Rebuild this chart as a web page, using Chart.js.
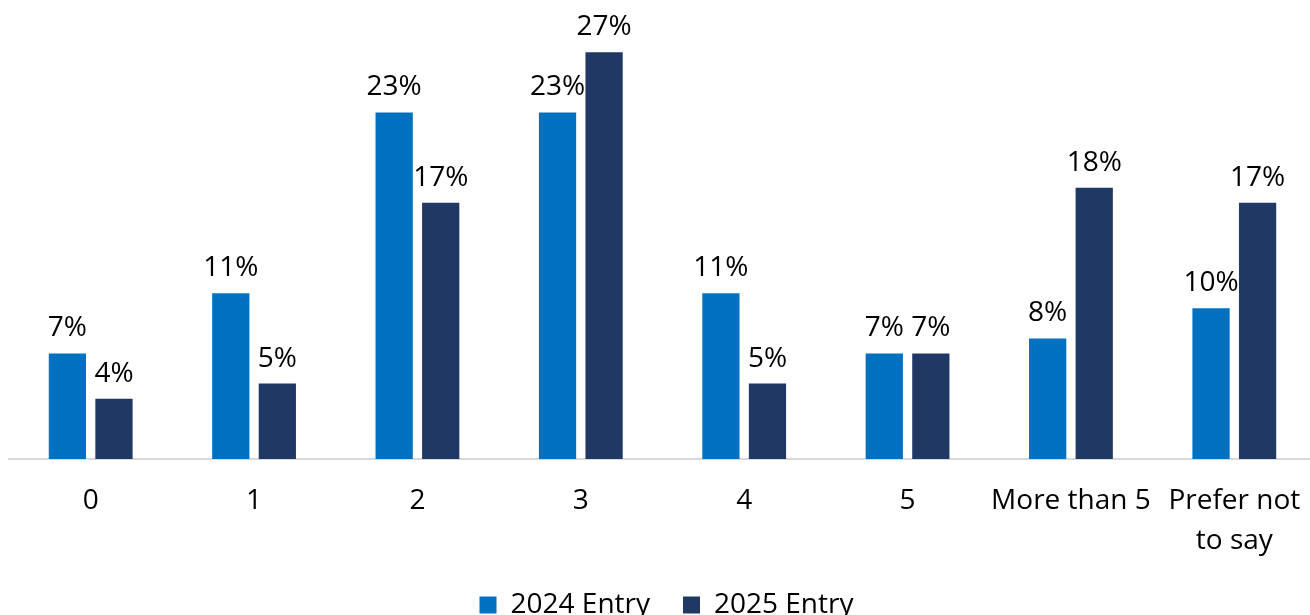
<!DOCTYPE html>
<html>
<head>
<meta charset="utf-8">
<script src="https://cdn.jsdelivr.net/npm/chart.js@4.4.1/dist/chart.umd.min.js"></script>
<style>
  html, body { margin: 0; padding: 0; background: #fff; overflow: hidden; }
  #wrap { width: 1316px; height: 629px; position: relative; }
</style>
</head>
<body>
<div id="wrap"><canvas id="chart"></canvas></div>
<script>
// data
const categories = ['0', '1', '2', '3', '4', '5', 'More than 5', ['Prefer not', 'to say']];
const entry2024 = [7, 11, 23, 23, 11, 7, 8, 10];
const entry2025 = [4, 5, 17, 27, 5, 7, 18, 17];
const seriesNames = ['2024 Entry', '2025 Entry'];

const FONT = "'Open Sans', sans-serif";

// labels above bars (no datalabels plugin available offline)
const valueLabels = {
  id: 'valueLabels',
  afterDatasetsDraw(chart) {
    const ctx = chart.ctx;
    ctx.save();
    ctx.font = `28px ${FONT}`;
    ctx.fillStyle = '#000';
    ctx.textAlign = 'center';
    ctx.textBaseline = 'bottom';
    chart.data.datasets.forEach((ds, i) => {
      chart.getDatasetMeta(i).data.forEach((bar, j) => {
        ctx.fillText(ds.data[j] + '%', bar.x, bar.y - 11);
      });
    });
    ctx.restore();
  }
};

new Chart(document.getElementById('chart'), {
  type: 'bar',
  data: {
    labels: categories,
    datasets: [
      { label: seriesNames[0], data: entry2024, backgroundColor: '#0070C0' },
      { label: seriesNames[1], data: entry2025, backgroundColor: '#203864' }
    ]
  },
  options: {
    responsive: true,
    maintainAspectRatio: false,
    animation: false,
    layout: { padding: { left: 9, right: -8, top: 7, bottom: 0 } },
    datasets: { bar: { categoryPercentage: 0.57, barPercentage: 0.8 } },
    scales: {
      x: {
        grid: { display: false },
        border: { display: true, color: '#d9d9d9', width: 2 },
        ticks: {
          color: '#000',
          font: { family: FONT, size: 28, lineHeight: 1.43 },
          padding: 14,
          maxRotation: 0,
          autoSkip: false
        },
        // pull the legend a bit closer to the tick labels
        afterFit(scale) { scale.height -= 17; }
      },
      y: {
        display: false,
        min: 0,
        max: 30
      }
    },
    plugins: {
      legend: {
        position: 'bottom',
        labels: {
          color: '#000',
          font: { family: FONT, size: 28 },
          boxWidth: 17,
          boxHeight: 17,
          padding: 33
        }
      },
      tooltip: { enabled: false }
    }
  },
  plugins: [valueLabels]
});
</script>
</body>
</html>
